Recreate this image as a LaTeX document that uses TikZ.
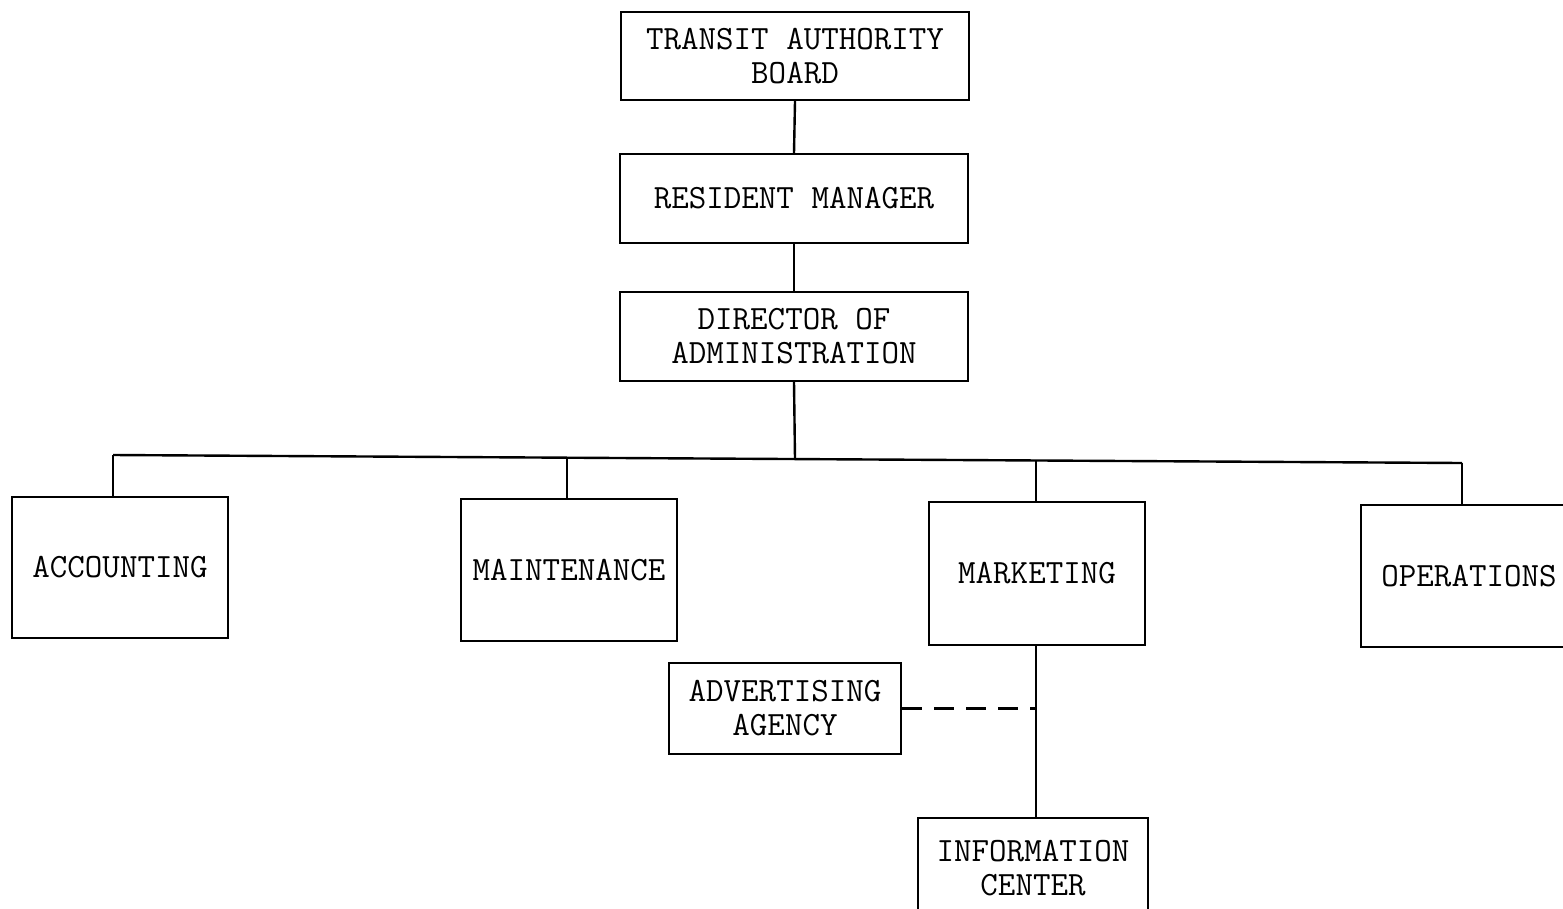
\documentclass[tikz,border=0pt]{standalone}
\begin{document}
\begin{tikzpicture}[x=1pt,y=-1pt,
  unit/.style={draw, line width=2.4pt, inner sep=0pt, align=center,
    font=\ttfamily\fontsize{34}{34}\selectfont},
  wire/.style={line width=2.4pt},
  liaison/.style={line width=2.4pt, dash pattern=on 20pt off 12pt}]
\useasboundingbox (0,0) rectangle (1563,908);
\clip (0,0) rectangle (1563,908);

% top of the chain of command
\node[unit, minimum width=348pt, minimum height=88pt] (board) at (795,56) {TRANSIT AUTHORITY\\BOARD};
\node[unit, minimum width=348pt, minimum height=89pt] (res) at (794,198.5) {RESIDENT MANAGER};
\node[unit, minimum width=348pt, minimum height=89pt] (dir) at (794,336.5) {DIRECTOR OF\\ADMINISTRATION};

% departments
\node[unit, minimum width=216pt, minimum height=141pt] (acc) at (120,567.5) {ACCOUNTING};
\node[unit, minimum width=216pt, minimum height=142pt] (mnt) at (569,570) {MAINTENANCE};
\node[unit, minimum width=216pt, minimum height=143pt] (mkt) at (1037,573.5) {MARKETING};
\node[unit, minimum width=216pt, minimum height=142pt] (ops) at (1469,576) {OPERATIONS};

% marketing's units
\node[unit, minimum width=232pt, minimum height=91pt] (adv) at (785,708.5) {ADVERTISING\\AGENCY};
\node[unit, minimum width=230pt, minimum height=100pt] (info) at (1033,868) {INFORMATION\\CENTER};

% points on the department bus
\coordinate (bacc) at (113,455);
\coordinate (bmnt) at (567,457.7);
\coordinate (bdir) at (795,459);
\coordinate (bmkt) at (1036,460.5);
\coordinate (bops) at (1462,463);

\draw[wire] (board.south) -- (res.north);
\draw[wire] (res.south) -- (dir.north);
\draw[wire] (dir.south) -- (bdir);
\draw[wire] (bacc) -- (bops);
\draw[wire] (bacc) -- (bacc |- acc.north);
\draw[wire] (bmnt) -- (bmnt |- mnt.north);
\draw[wire] (bmkt) -- (bmkt |- mkt.north);
\draw[wire] (bops) -- (bops |- ops.north);

\coordinate (mdown) at (1036,0);
\draw[wire] (mdown |- mkt.south) -- (mdown |- info.north);
\draw[liaison] (adv.east) -- (adv.east -| mdown);
\end{tikzpicture}
\end{document}
